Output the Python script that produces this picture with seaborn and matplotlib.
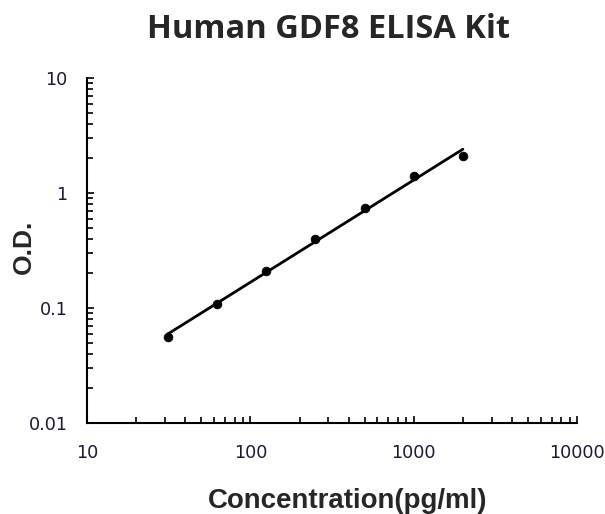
import numpy as np
import pandas as pd
import matplotlib
matplotlib.use("Agg")
import matplotlib.pyplot as plt
from matplotlib.ticker import LogLocator, FixedLocator, NullFormatter
import seaborn as sns

# standard curve data
concentration = [31.25, 62.5, 125, 250, 500, 1000, 2000]
od_values = [0.056, 0.108, 0.21, 0.40, 0.74, 1.41, 2.10]

x_ticks = [10, 100, 1000, 10000]
x_tick_labels = ["10", "100", "1000", "10000"]
y_ticks = [0.01, 0.1, 1, 10]
y_tick_labels = ["0.01", "0.1", "1", "10"]

df = pd.DataFrame({"conc": concentration, "od": od_values})

# linear fit in log-log space
coef = np.polyfit(np.log10(df["conc"]), np.log10(df["od"]), 1)
fit_x = np.logspace(np.log10(min(concentration)), np.log10(max(concentration)), 50)
fit_df = pd.DataFrame({"conc": fit_x, "od": 10 ** np.polyval(coef, np.log10(fit_x))})

sns.set_style("ticks")
plt.rcParams["font.family"] = ["Liberation Sans", "DejaVu Sans"]

fig = plt.figure(figsize=(6.05, 5.14), dpi=100)
ax = fig.add_axes([0.1438, 0.177, 0.81, 0.671])

sns.lineplot(data=fit_df, x="conc", y="od", ax=ax, color="black", linewidth=2.0)
sns.scatterplot(data=df, x="conc", y="od", ax=ax, color="black", s=40, edgecolor="black", zorder=3)

ax.set_xscale("log")
ax.set_yscale("log")
ax.set_xlim(10, 10000)
ax.set_ylim(0.01, 10)

ax.xaxis.set_major_locator(FixedLocator(x_ticks))
ax.set_xticklabels(x_tick_labels, family="DejaVu Sans")
ax.yaxis.set_major_locator(FixedLocator(y_ticks))
ax.set_yticklabels(y_tick_labels, family="DejaVu Sans")
ax.xaxis.set_minor_locator(LogLocator(base=10, subs=np.arange(2, 10)))
ax.yaxis.set_minor_locator(LogLocator(base=10, subs=np.arange(2, 10)))
ax.xaxis.set_minor_formatter(NullFormatter())
ax.yaxis.set_minor_formatter(NullFormatter())

ax.tick_params(axis="both", which="both", direction="in", color="black", width=1.2)
ax.tick_params(axis="both", which="major", length=5, labelsize=12.7, labelcolor="#1a1a33")
ax.tick_params(axis="both", which="minor", length=4)
ax.tick_params(axis="x", which="major", pad=15)
ax.tick_params(axis="y", which="major", pad=14)

for side in ["top", "right"]:
    ax.spines[side].set_visible(False)
for side in ["left", "bottom"]:
    ax.spines[side].set_color("black")
    ax.spines[side].set_linewidth(1.5)

ax.set_xlabel("Concentration(pg/ml)", fontsize=19.9, fontweight="bold", va="center")
ax.xaxis.set_label_coords(0.532, -0.226)
ax.set_ylabel("O.D.", fontsize=19, fontweight="bold", va="center")
ax.yaxis.set_label_coords(-0.128, 0.51)
fig.text(0.543, 0.942, "Human GDF8 ELISA Kit", fontsize=23.5, fontweight="bold",
         ha="center", va="center", family=["Open Sans", "DejaVu Sans"])

fig.savefig("out.png", dpi=100)
